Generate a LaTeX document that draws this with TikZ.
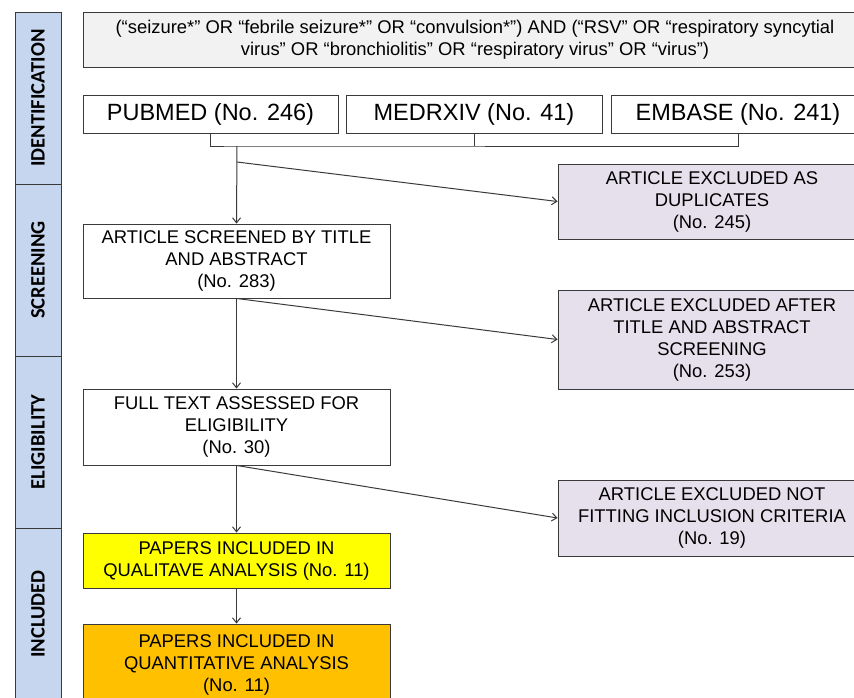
\documentclass[tikz,border=0pt]{standalone}
\usepackage{fontspec}
\setmainfont{Liberation Sans}
\newfontfamily\sidefont{Carlito}
\usetikzlibrary{arrows.meta}
\definecolor{sideblue}{HTML}{C6D6EE}
\definecolor{querygray}{HTML}{F2F2F2}
\definecolor{exclviolet}{HTML}{E6E0EC}
\definecolor{qualyellow}{HTML}{FFFF00}
\definecolor{quantorange}{HTML}{FFC000}
\definecolor{edgegray}{HTML}{3A3A3A}
\begin{document}
\begin{tikzpicture}[x=1pt, y=-1pt,
  box/.style={draw=edgegray, line width=0.9pt, rectangle, inner sep=0pt, align=center, font=\fontsize{18.4}{22}\selectfont},
  dbbox/.style={box, font=\fontsize{23.5}{28}\selectfont},
  phase/.style={draw=edgegray, line width=0.9pt, fill=sideblue, rectangle, inner sep=0pt, minimum width=46pt, minimum height=172pt, font=\sidefont\bfseries\fontsize{20.5}{22}\selectfont},
  flow/.style={draw=edgegray, line width=1pt, -{Straight Barb[length=5pt,width=8pt]}}]
\useasboundingbox (0,0) rectangle (854,697);
\clip (0,0) rectangle (854,697);
\node[phase] (ph1) at (38,98){\rotatebox{90}{IDENTIFICATION}};
\node[phase] (ph2) at (38,270){\rotatebox{90}{SCREENING}};
\node[phase] (ph3) at (38,442){\rotatebox{90}{ELIGIBILITY}};
\node[phase] (ph4) at (38,614){\rotatebox{90}{INCLUDED}};
\node[box, fill=querygray, minimum width=784pt, minimum height=55pt, font=\fontsize{18.4}{22}\selectfont] (query) at (475,39.5){(“seizure*” OR “febrile seizure*” OR “convulsion*”) AND (“RSV” OR “respiratory syncytial\\virus” OR “bronchiolitis” OR “respiratory virus” OR “virus”)};
\node[dbbox, minimum width=255pt, minimum height=38pt] (pubmed) at (210.5,114){PUBMED (No. 246)};
\node[dbbox, minimum width=256pt, minimum height=38pt] (medrxiv) at (474,114){MEDRXIV (No. 41)};
\node[dbbox, minimum width=254pt, minimum height=38pt] (embase) at (738,114){EMBASE (No. 241)};
\coordinate (merge) at (237,146);
\coordinate (split) at (237,162);
\draw[edgegray, line width=1pt](pubmed.south) |- (merge) -| (embase.south);
\draw[edgegray, line width=1pt](medrxiv.south) -- (medrxiv.south |- merge);
\node[box, fill=exclviolet, minimum width=308pt, minimum height=75pt] (dup) at (712,201.5){ARTICLE EXCLUDED AS\\DUPLICATES\\(No. 245)};
\node[box, minimum width=307pt, minimum height=74pt] (scr) at (236.5,261){ARTICLE SCREENED BY TITLE\\AND ABSTRACT\\(No. 283)};
\node[box, fill=exclviolet, minimum width=308pt, minimum height=99pt] (excta) at (712,339.5){ARTICLE EXCLUDED AFTER\\TITLE AND ABSTRACT\\SCREENING\\(No. 253)};
\node[box, minimum width=307pt, minimum height=76pt] (full) at (236.5,427){FULL TEXT ASSESSED FOR\\ELIGIBILITY\\(No. 30)};
\node[box, fill=exclviolet, minimum width=308pt, minimum height=76pt] (excfit) at (712,518){ARTICLE EXCLUDED NOT\\FITTING INCLUSION CRITERIA\\(No. 19)};
\node[box, fill=qualyellow, minimum width=307pt, minimum height=55pt] (qual) at (236.5,560.5){PAPERS INCLUDED IN\\QUALITAVE ANALYSIS (No. 11)};
\node[box, fill=quantorange, minimum width=307pt, minimum height=82pt] (quant) at (236.5,665){PAPERS INCLUDED IN\\QUANTITATIVE ANALYSIS\\(No. 11)};
\draw[flow](merge) -- (scr.north);
\draw[flow](split) -- (dup.west);
\draw[flow](scr.south) -- (full.north);
\draw[flow](scr.south) -- (excta.west);
\draw[flow](full.south) -- (qual.north);
\draw[flow](full.south) -- (excfit.west);
\draw[flow](qual.south) -- (quant.north);
\end{tikzpicture}
\end{document}
